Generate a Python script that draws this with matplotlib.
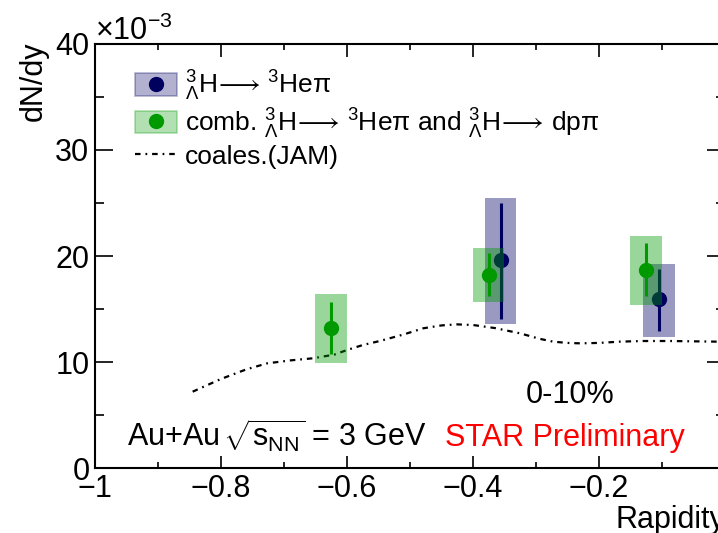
import numpy as np
import matplotlib.pyplot as plt
from matplotlib.patches import Patch, Rectangle
from matplotlib.lines import Line2D

plt.rcParams['font.family'] = ['Liberation Sans', 'DejaVu Sans']
plt.rcParams['mathtext.fontset'] = 'custom'
plt.rcParams['mathtext.rm'] = 'Liberation Sans'
plt.rcParams['mathtext.it'] = 'Liberation Sans:italic'
plt.rcParams['mathtext.sf'] = 'Liberation Sans'
plt.rcParams['axes.unicode_minus'] = True

# DATA (dN/dy in units of 1e-3)
y_he = [-0.356, -0.105]
v_he = [19.6, 15.9]
stat_lo_he = [14.1, 12.9]
stat_hi_he = [25.0, 18.8]
sys_lo_he = [13.6, 12.4]
sys_hi_he = [25.5, 19.25]

y_comb = [-0.625, -0.375, -0.125]
v_comb = [13.2, 18.25, 18.7]
stat_lo_comb = [10.75, 16.2, 16.2]
stat_hi_comb = [15.65, 20.3, 21.2]
sys_lo_comb = [9.9, 15.65, 15.4]
sys_hi_comb = [16.4, 20.75, 21.9]

jam_y = [-0.845, -0.80, -0.76, -0.727, -0.69, -0.654, -0.62, -0.60, -0.575, -0.548,
         -0.51, -0.479, -0.45, -0.426, -0.40, -0.365, -0.325, -0.295, -0.273, -0.25,
         -0.23, -0.20, -0.167, -0.13, -0.087, -0.05, -0.013, 0.0]
jam_v = [7.2, 8.4, 9.3, 9.87, 10.15, 10.35, 10.7, 11.13, 11.6, 11.98,
         12.6, 13.18, 13.45, 13.55, 13.49, 13.2, 12.7, 12.2, 11.92, 11.8,
         11.76, 11.8, 11.92, 11.98, 11.98, 11.95, 11.92, 11.9]

box_w = 0.05

c_navy = '#00005f'
c_navy_fill = '#000066'
c_green = '#009900'

# PLOT
fig = plt.figure(figsize=(7.18, 5.33), dpi=100)
ax = fig.add_axes([95 / 718, 65 / 533, 630 / 718, 424 / 533])

ax.plot(jam_y, jam_v, color='black', lw=1.6, dashes=(2.5, 2.2, 0.8, 2.2), zorder=1)

for x, lo, hi in zip(y_he, sys_lo_he, sys_hi_he):
    ax.add_patch(Rectangle((x - box_w / 2, lo), box_w, hi - lo, facecolor=c_navy_fill,
                           alpha=0.4, edgecolor='none', zorder=2))
ax.errorbar(y_he, v_he,
            yerr=[np.subtract(v_he, stat_lo_he), np.subtract(stat_hi_he, v_he)],
            fmt='o', color=c_navy, ms=10, elinewidth=2.2, capsize=0, zorder=3)

for x, lo, hi in zip(y_comb, sys_lo_comb, sys_hi_comb):
    ax.add_patch(Rectangle((x - box_w / 2, lo), box_w, hi - lo, facecolor=c_green,
                           alpha=0.4, edgecolor='none', zorder=4))
ax.errorbar(y_comb, v_comb,
            yerr=[np.subtract(v_comb, stat_lo_comb), np.subtract(stat_hi_comb, v_comb)],
            fmt='o', color=c_green, ms=10, elinewidth=2.2, capsize=0, zorder=5)

ax.set_xlim(-1, 0)
ax.set_ylim(0, 40)
ax.set_xticks(np.arange(-1, 0.01, 0.2))
ax.set_xticklabels(['\u22121', '\u22120.8', '\u22120.6', '\u22120.4', '\u22120.2', '0'])
ax.set_xticks(np.arange(-0.9, 0, 0.2), minor=True)
ax.set_yticks([0, 10, 20, 30, 40])
ax.set_yticks([5, 15, 25, 35], minor=True)
ax.tick_params(axis='both', which='both', direction='in', top=True, right=True,
               labelsize=22, width=1.2, pad=4)
ax.tick_params(axis='y', which='major', length=13)
ax.tick_params(axis='y', which='minor', length=6.5)
ax.tick_params(axis='x', which='major', length=9)
ax.tick_params(axis='x', which='minor', length=4.5)
for s in ax.spines.values():
    s.set_linewidth(1.5)

ax.text(0, 1.0094, '\u00d710$^{\u22123}$', transform=ax.transAxes, fontsize=22,
        ha='left', va='baseline')
ax.text(-0.098, 1.005, 'dN/dy', transform=ax.transAxes, fontsize=22, rotation=90,
        ha='center', va='top')
ax.text(1.0, -0.1415, 'Rapidity', transform=ax.transAxes, fontsize=22,
        ha='right', va='baseline')

ax.text(-0.949, 2.0, r'Au+Au$\,\sqrt{\mathrm{s}_{\mathrm{NN}}}$ = 3 GeV', fontsize=22,
        va='baseline')
ax.text(-0.444, 2.1, 'STAR Preliminary', fontsize=22, color='red', va='baseline')
ax.text(-0.317, 6.1, '0-10%', fontsize=22, va='baseline')

arrow = r'$\!\longrightarrow\!$ '
h1 = (Patch(facecolor=c_navy_fill, alpha=0.3, edgecolor=c_navy, lw=1.2),
      Line2D([], [], marker='o', color=c_navy, ls='none', ms=10))
h2 = (Patch(facecolor=c_green, alpha=0.3, edgecolor=c_green, lw=1.2),
      Line2D([], [], marker='o', color=c_green, ls='none', ms=10))
h3 = Line2D([], [], color='black', lw=1.6, dashes=(2.5, 2.2, 0.8, 2.2))
labels = [r'${}^{3}_{\Lambda}$H' + arrow + r'$^{3}$He$\mathrm{\pi}$',
          r'comb. ${}^{3}_{\Lambda}$H' + arrow + r'$^{3}$He$\mathrm{\pi}$ and '
          r'${}^{3}_{\Lambda}$H' + arrow + r'dp$\mathrm{\pi}$',
          'coales.(JAM)']
ax.legend([h1, h2, h3], labels, loc='upper left',
          bbox_to_anchor=(40 / 630, 1 - 25 / 424), frameon=False, fontsize=19,
          handlelength=1.6, handleheight=0.95, handletextpad=0.3,
          labelspacing=0.12, borderpad=0, borderaxespad=0)

plt.savefig('out.png', dpi=100)
